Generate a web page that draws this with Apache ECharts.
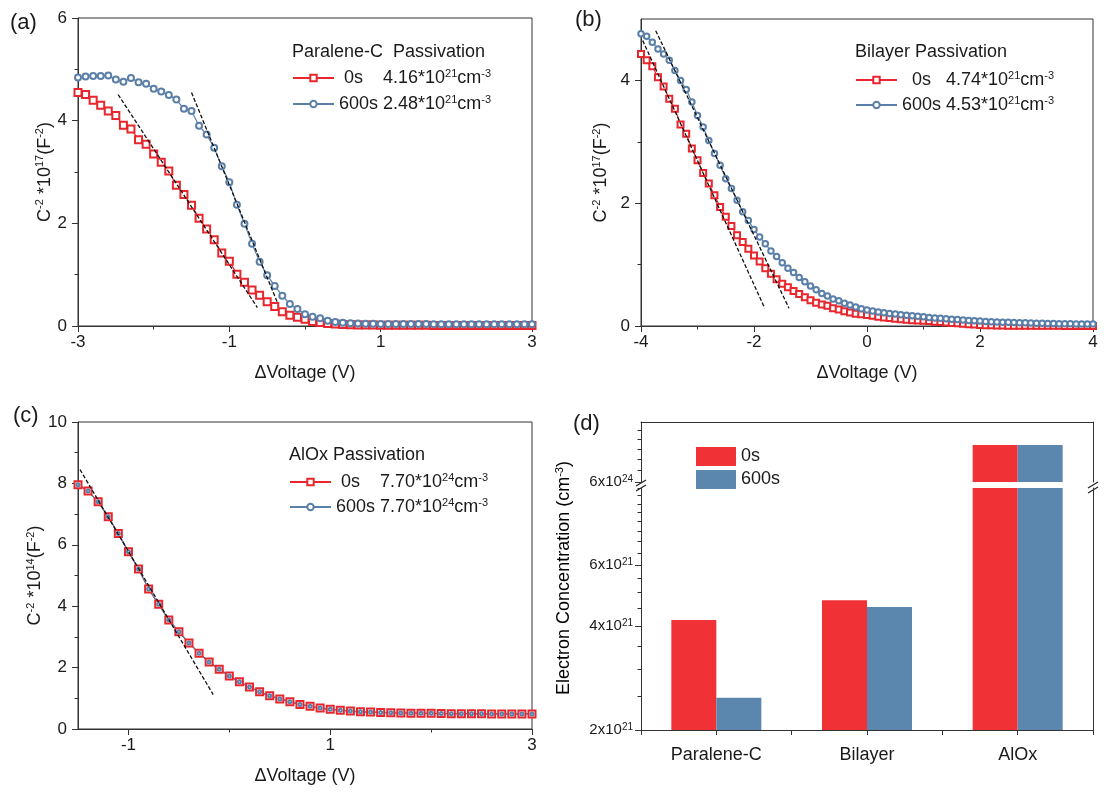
<!DOCTYPE html>
<html>
<head>
<meta charset="utf-8">
<script src="https://cdn.jsdelivr.net/npm/echarts@6/dist/echarts.min.js"></script>
<style>
  html, body { margin: 0; background: #fff; }
  #chart { width: 1104px; height: 792px; }
</style>
</head>
<body>
<div id="chart"></div>
<script>
// ---- data ----
// (a) Paralene-C passivation
const voltA = [-3.0,-2.9,-2.8,-2.7,-2.6,-2.5,-2.4,-2.3,-2.2,-2.1,-2.0,-1.9,-1.8,-1.7,-1.6,-1.5,-1.4,-1.3,-1.2,-1.1,
  -1.0,-0.9,-0.8,-0.7,-0.6,-0.5,-0.4,-0.3,-0.2,-0.1,0.0,0.1,0.2,0.3,0.4,0.5,0.6,0.7,0.8,0.9,
  1.0,1.1,1.2,1.3,1.4,1.5,1.6,1.7,1.8,1.9,2.0,2.1,2.2,2.3,2.4,2.5,2.6,2.7,2.8,2.9,3.0];
const capA0 = [4.55,4.51,4.40,4.30,4.19,4.10,3.91,3.84,3.63,3.54,3.35,3.19,3.02,2.74,2.56,2.35,2.10,1.89,1.68,1.42,
  1.26,1.01,0.85,0.70,0.60,0.47,0.38,0.28,0.21,0.17,0.13,0.09,0.07,0.05,0.04,0.03,0.025,0.02,0.02,0.018,
  0.016,0.015,0.015,0.014,0.014,0.013,0.013,0.012,0.012,0.012,0.011,0.011,0.011,0.010,0.010,0.010,0.010,0.010,0.010,0.010,0.010];
const capA600 = [4.84,4.86,4.87,4.87,4.88,4.80,4.76,4.83,4.75,4.72,4.62,4.57,4.50,4.41,4.23,4.19,3.90,3.73,3.47,3.11,
  2.80,2.36,1.99,1.60,1.25,0.99,0.78,0.59,0.43,0.33,0.23,0.18,0.15,0.10,0.08,0.065,0.055,0.05,0.045,0.042,
  0.040,0.040,0.039,0.038,0.038,0.037,0.037,0.036,0.036,0.035,0.035,0.035,0.034,0.034,0.034,0.033,0.033,0.033,0.032,0.032,0.032];
const fitA0 = [[-2.47, 4.51], [-0.63, 0.36]];
const fitA600 = [[-1.50, 4.55], [-0.36, 0.44]];

// (b) Bilayer passivation
const voltB = [-4.0,-3.9,-3.8,-3.7,-3.6,-3.5,-3.4,-3.3,-3.2,-3.1,-3.0,-2.9,-2.8,-2.7,-2.6,-2.5,-2.4,-2.3,-2.2,-2.1,
  -2.0,-1.9,-1.8,-1.7,-1.6,-1.5,-1.4,-1.3,-1.2,-1.1,-1.0,-0.9,-0.8,-0.7,-0.6,-0.5,-0.4,-0.3,-0.2,-0.1,
  0.0,0.1,0.2,0.3,0.4,0.5,0.6,0.7,0.8,0.9,1.0,1.1,1.2,1.3,1.4,1.5,1.6,1.7,1.8,1.9,
  2.0,2.1,2.2,2.3,2.4,2.5,2.6,2.7,2.8,2.9,3.0,3.1,3.2,3.3,3.4,3.5,3.6,3.7,3.8,3.9,4.0];
const capB0 = [4.43,4.33,4.23,4.05,3.90,3.70,3.54,3.28,3.13,2.89,2.70,2.49,2.32,2.13,1.94,1.78,1.63,1.48,1.37,1.26,
  1.15,1.05,0.94,0.85,0.76,0.69,0.63,0.57,0.52,0.47,0.42,0.38,0.35,0.33,0.29,0.27,0.24,0.22,0.20,0.19,
  0.18,0.165,0.15,0.14,0.13,0.12,0.11,0.10,0.095,0.09,0.087,0.08,0.07,0.065,0.057,0.05,0.043,0.036,0.03,0.024,
  0.018,0.014,0.011,0.009,0.007,0.006,0.005,0.005,0.004,0.004,0.004,0.003,0.003,0.003,0.003,0.002,0.002,0.002,0.002,0.002,0.002];
const capB600 = [4.76,4.72,4.62,4.51,4.43,4.33,4.16,4.00,3.85,3.65,3.43,3.24,3.02,2.81,2.62,2.40,2.24,2.05,1.86,1.72,
  1.57,1.45,1.34,1.22,1.13,1.03,0.94,0.87,0.79,0.72,0.65,0.59,0.53,0.49,0.44,0.41,0.37,0.34,0.31,0.28,
  0.26,0.245,0.23,0.215,0.205,0.195,0.185,0.175,0.165,0.158,0.15,0.14,0.132,0.125,0.118,0.11,0.104,0.098,0.09,0.085,
  0.08,0.075,0.071,0.067,0.063,0.06,0.057,0.054,0.051,0.048,0.046,0.044,0.042,0.04,0.038,0.036,0.035,0.034,0.033,0.032,0.031];
const fitB0 = [[-3.97, 4.65], [-1.81, 0.29]];
const fitB600 = [[-3.74, 4.81], [-1.38, 0.29]];

// (c) AlOx passivation (both curves overlap)
const voltC = [-1.5,-1.4,-1.3,-1.2,-1.1,-1.0,-0.9,-0.8,-0.7,-0.6,-0.5,-0.4,-0.3,-0.2,-0.1,0.0,0.1,0.2,0.3,0.4,
  0.5,0.6,0.7,0.8,0.9,1.0,1.1,1.2,1.3,1.4,1.5,1.6,1.7,1.8,1.9,2.0,2.1,2.2,2.3,2.4,2.5,2.6,2.7,2.8,2.9,3.0];
const capC0 = [7.96,7.75,7.40,6.91,6.37,5.77,5.21,4.56,4.06,3.55,3.17,2.80,2.47,2.18,1.95,1.73,1.54,1.37,1.21,1.08,
  0.98,0.89,0.80,0.74,0.68,0.64,0.61,0.585,0.56,0.55,0.54,0.53,0.52,0.515,0.51,0.51,0.505,0.50,0.50,0.50,
  0.495,0.49,0.49,0.49,0.49,0.49];
const capC600 = [7.96,7.75,7.40,6.91,6.37,5.77,5.21,4.56,4.06,3.55,3.17,2.80,2.47,2.18,1.95,1.73,1.54,1.37,1.21,1.08,
  0.98,0.89,0.80,0.74,0.68,0.64,0.61,0.585,0.56,0.55,0.54,0.53,0.52,0.515,0.51,0.51,0.505,0.50,0.50,0.50,
  0.495,0.49,0.49,0.49,0.49,0.49];
const fitC = [[-1.48, 8.45], [-0.16, 1.12]];

// (d) electron concentration (cm^-3)
const layers = ['Paralene-C', 'Bilayer', 'AlOx'];
const conc0 = [4.16e21, 4.74e21, 7.70e24];
const conc600 = [2.48e21, 4.53e21, 7.70e24];

// tick values
const ticksAx = [-3, -1, 1, 3], minorAx = [-2, 0, 2];
const ticksAy = [0, 2, 4, 6], minorAy = [1, 3, 5];
const ticksBx = [-4, -2, 0, 2, 4], minorBx = [-3, -1, 1, 3];
const ticksBy = [0, 2, 4], minorBy = [1, 3];
const ticksCx = [-1, 1, 3], minorCx = [0, 2];
const ticksCy = [0, 2, 4, 6, 8, 10], minorCy = [1, 3, 5, 7, 9];
const ticksDhi = [6e24], minorDhi = [6.5e24, 7e24, 7.5e24, 8e24, 8.5e24, 9e24];
const ticksDlo = [2e21, 4e21, 6e21];
const minorDlo = [2.5e21, 3e21, 3.5e21, 4.5e21, 5e21, 5.5e21, 6.5e21, 7e21, 7.5e21, 8e21, 8.5e21, 9e21, 9.5e21, 1e22];

// ---- styling ----
const FONT = '"Liberation Sans", Arial, sans-serif';
const TXT = '#1a1a1a';
const AX = '#333';
const RED = '#e8262d';
const BLUE = '#5a7fa8';
const BAR_RED = '#f03237';
const BAR_BLUE = '#5b86ad';
const SUP = { fontSize: 11, lineHeight: 11, verticalAlign: 'top', fontFamily: FONT, color: TXT };
const RICH = { n: { fontSize: 18, lineHeight: 20, fontFamily: FONT, color: TXT }, s: SUP };

const pairs = (xs, ys) => xs.map((x, i) => [x, ys[i]]);
function sci(v) {
  const e = Math.floor(Math.log10(v) + 1e-9);
  return { m: v / Math.pow(10, e), e };
}
function concText(v) {
  const p = sci(v);
  return p.m.toFixed(2) + '*10{s|' + p.e + '}cm{s|-3}';
}
const legendText = {
  a0: ' 0s    ' + concText(conc0[0]),
  a600: '600s ' + concText(conc600[0]),
  b0: '  0s   ' + concText(conc0[1]),
  b600: '600s ' + concText(conc600[1]),
  c0: ' 0s    ' + concText(conc0[2]),
  c600: '600s ' + concText(conc600[2]),
  d0: '0s',
  d600: '600s'
};
const yNameC = (exp) => '{n|C}{s|-2}{n| *10}{s|' + exp + '}{n|(F}{s|-2}{n|)}';

// ---- axes ----
const xAxes = [], yAxes = [];
function add(list, cfg) { list.push(cfg); return list.length - 1; }
function mainAxis(grid, pos, min, max, major, extra) {
  return Object.assign({
    type: 'value', gridIndex: grid, position: pos, min, max,
    axisLine: { show: true, onZero: false, lineStyle: { color: AX, width: 1 } },
    axisTick: { show: true, customValues: major, length: 6, lineStyle: { color: AX } },
    axisLabel: { customValues: major, color: TXT, fontSize: 17, fontFamily: FONT,
      margin: pos === 'left' ? 11 : 8 },
    splitLine: { show: false }
  }, extra);
}
function minorAxis(grid, pos, min, max, minor, type) {
  return {
    type: type || 'value', gridIndex: grid, position: pos, min, max,
    axisLine: { show: false, onZero: false }, axisLabel: { show: false }, splitLine: { show: false },
    axisTick: { show: true, customValues: minor, length: 3.5, lineStyle: { color: AX } }
  };
}
const xName = { name: '\u0394Voltage (V)', nameLocation: 'middle', nameGap: 38,
  nameTextStyle: { fontSize: 18, fontFamily: FONT, color: TXT } };
const yName = (exp, gap) => ({ name: yNameC(exp), nameLocation: 'middle', nameGap: gap,
  nameTextStyle: { fontSize: 18, fontFamily: FONT, color: TXT, rich: RICH } });

// panel a
const axA = add(xAxes, mainAxis(0, 'bottom', -3, 3, ticksAx, xName));
add(xAxes, minorAxis(0, 'bottom', -3, 3, minorAx));
const ayA = add(yAxes, mainAxis(0, 'left', 0, 6, ticksAy, yName(17, 19)));
add(yAxes, minorAxis(0, 'left', 0, 6, minorAy));
// panel b
const axB = add(xAxes, mainAxis(1, 'bottom', -4, 4, ticksBx, xName));
add(xAxes, minorAxis(1, 'bottom', -4, 4, minorBx));
const ayB = add(yAxes, mainAxis(1, 'left', 0, 5, ticksBy, yName(17, 30)));
add(yAxes, minorAxis(1, 'left', 0, 5, minorBy));
// panel c
const axC = add(xAxes, mainAxis(2, 'bottom', -1.5, 3, ticksCx, xName));
add(xAxes, minorAxis(2, 'bottom', -1.5, 3, minorCx));
const ayC = add(yAxes, mainAxis(2, 'left', 0, 10, ticksCy, yName(14, 29)));
add(yAxes, minorAxis(2, 'left', 0, 10, minorCy));

// panel d : broken log axis made of two grids
const expLabel = {
  color: TXT, fontSize: 15, fontFamily: FONT, margin: 8,
  formatter: (v) => { const p = sci(v); return Math.round(p.m) + 'x10{s|' + p.e + '}'; },
  rich: { s: { fontSize: 10, lineHeight: 10, verticalAlign: 'top', fontFamily: FONT, color: TXT } }
};
function logAxis(grid, min, max, major) {
  return {
    type: 'log', logBase: 10, gridIndex: grid, position: 'left', min, max,
    axisLine: { show: true, onZero: false, lineStyle: { color: AX, width: 1 } },
    axisTick: { show: true, customValues: major, length: 6, lineStyle: { color: AX } },
    axisLabel: Object.assign({}, expLabel, { customValues: major }),
    splitLine: { show: false }, minorTick: { show: false }
  };
}
function lineOnly(grid, type, pos, extra) {
  return Object.assign({
    type, gridIndex: grid, position: pos,
    axisLine: { show: true, onZero: false, lineStyle: { color: AX, width: 1 } },
    axisTick: { show: false }, axisLabel: { show: false }, splitLine: { show: false }
  }, extra);
}
const axDhi = add(xAxes, lineOnly(3, 'category', 'top', { data: layers }));
const ayDhi = add(yAxes, logAxis(3, 6e24, 9e24, ticksDhi));
add(yAxes, minorAxis(3, 'left', 6e24, 9e24, minorDhi, 'log'));
add(yAxes, lineOnly(3, 'log', 'right', { min: 6e24, max: 9e24 }));

const axDlo = add(xAxes, {
  type: 'category', gridIndex: 4, position: 'bottom', data: layers,
  axisLine: { show: true, onZero: false, lineStyle: { color: AX, width: 1 } },
  axisTick: { show: true, length: 5, lineStyle: { color: AX } },
  axisLabel: { color: TXT, fontSize: 18, fontFamily: FONT, margin: 16 }
});
add(xAxes, {
  type: 'category', gridIndex: 4, position: 'bottom', data: layers,
  axisLine: { show: false, onZero: false }, axisLabel: { show: false },
  axisTick: { show: true, alignWithLabel: true, length: 5, lineStyle: { color: AX } }
});
const ayDlo = add(yAxes, logAxis(4, 2e21, 1e22, ticksDlo));
add(yAxes, minorAxis(4, 'left', 2e21, 1e22, minorDlo, 'log'));
add(yAxes, lineOnly(4, 'log', 'right', { min: 2e21, max: 1e22 }));

// ---- series ----
function curve(name, xi, yi, data, color, symbol, size) {
  return {
    type: 'line', name, xAxisIndex: xi, yAxisIndex: yi, data,
    symbol, symbolSize: size, showAllSymbol: true, color,
    lineStyle: { width: 1.2, color }, itemStyle: { color, borderWidth: 1 }
  };
}
function fit(xi, yi, data) {
  return {
    type: 'line', xAxisIndex: xi, yAxisIndex: yi, data, symbol: 'none', z: 5,
    lineStyle: { color: '#111', width: 1.3, type: [4, 2] }
  };
}
function bar(name, xi, yi, data, color) {
  return { type: 'bar', name, xAxisIndex: xi, yAxisIndex: yi, data, barWidth: 45, barGap: '0%',
    itemStyle: { color }, clip: true };
}
const series = [
  curve('a0', axA, ayA, pairs(voltA, capA0), RED, 'emptyRect', 7),
  curve('a600', axA, ayA, pairs(voltA, capA600), BLUE, 'emptyCircle', 6),
  fit(axA, ayA, fitA0), fit(axA, ayA, fitA600),
  curve('b0', axB, ayB, pairs(voltB, capB0), RED, 'emptyRect', 6),
  curve('b600', axB, ayB, pairs(voltB, capB600), BLUE, 'emptyCircle', 5.5),
  fit(axB, ayB, fitB0), fit(axB, ayB, fitB600),
  curve('c0', axC, ayC, pairs(voltC, capC0), RED, 'emptyRect', 7),
  curve('c600', axC, ayC, pairs(voltC, capC600), BLUE, 'emptyCircle', 3),
  fit(axC, ayC, fitC),
  bar('d0', axDlo, ayDlo, conc0, BAR_RED),
  bar('d600', axDlo, ayDlo, conc600, BAR_BLUE),
  bar('d0', axDhi, ayDhi, conc0, BAR_RED),
  bar('d600', axDhi, ayDhi, conc600, BAR_BLUE)
];

// ---- legends ----
function lineLegend(name, left, top) {
  return {
    data: [name], left, top, padding: 0, orient: 'vertical', selectedMode: false,
    itemWidth: 41, itemHeight: 8, formatter: (n) => legendText[n],
    textStyle: { fontSize: 18, lineHeight: 20, fontFamily: FONT, color: TXT, rich: { s: SUP } }
  };
}
const legends = [
  lineLegend('a0', 292, 68), lineLegend('a600', 292, 94),
  lineLegend('b0', 855, 70), lineLegend('b600', 855, 95),
  lineLegend('c0', 289, 472), lineLegend('c600', 289, 497),
  {
    data: ['d0', 'd600'], left: 696, top: 447, padding: 0, orient: 'vertical', selectedMode: false,
    icon: 'rect', itemWidth: 40, itemHeight: 19, itemGap: 4, formatter: (n) => legendText[n],
    textStyle: { fontSize: 18, lineHeight: 19, fontFamily: FONT, color: TXT }
  }
];

// ---- text and break marks ----
function label(text, x, y, size) {
  return { type: 'text', x, y, style: { text, font: size + 'px ' + FONT, fill: TXT, verticalAlign: 'middle' } };
}
function slash(x, y) {
  return [
    { type: 'line', shape: { x1: x - 5, y1: y + 1, x2: x + 5, y2: y - 5 }, style: { stroke: '#222', lineWidth: 1.2 } },
    { type: 'line', shape: { x1: x - 5, y1: y + 6, x2: x + 5, y2: y }, style: { stroke: '#222', lineWidth: 1.2 } }
  ];
}
const graphics = [
  label('(a)', 10, 23, 22), label('(b)', 575, 20, 22), label('(c)', 13, 416, 22), label('(d)', 573, 424, 22),
  label('Paralene-C  Passivation', 292, 52, 18),
  label('Bilayer Passivation', 855, 52, 18),
  label('AlOx Passivation', 289, 455, 18),
  {
    type: 'text', x: 564, y: 578, rotation: Math.PI / 2,
    style: { text: '{n|Electron Concentration (cm}{s|-3}{n|)}', rich: RICH, align: 'center', verticalAlign: 'middle' }
  }
].concat(slash(641, 485), slash(1093, 487));

const chart = echarts.init(document.getElementById('chart'));
chart.setOption({
  animation: false,
  backgroundColor: '#fff',
  grid: [
    { left: 78, top: 18, width: 454, height: 308, show: true, borderColor: AX, borderWidth: 1 },
    { left: 641, top: 19, width: 452, height: 307, show: true, borderColor: AX, borderWidth: 1 },
    { left: 78, top: 422, width: 454, height: 307, show: true, borderColor: AX, borderWidth: 1 },
    { left: 641, top: 422, width: 452, height: 60 },
    { left: 641, top: 488, width: 452, height: 242 }
  ],
  xAxis: xAxes,
  yAxis: yAxes,
  legend: legends,
  series,
  graphic: graphics
});
</script>
</body>
</html>
